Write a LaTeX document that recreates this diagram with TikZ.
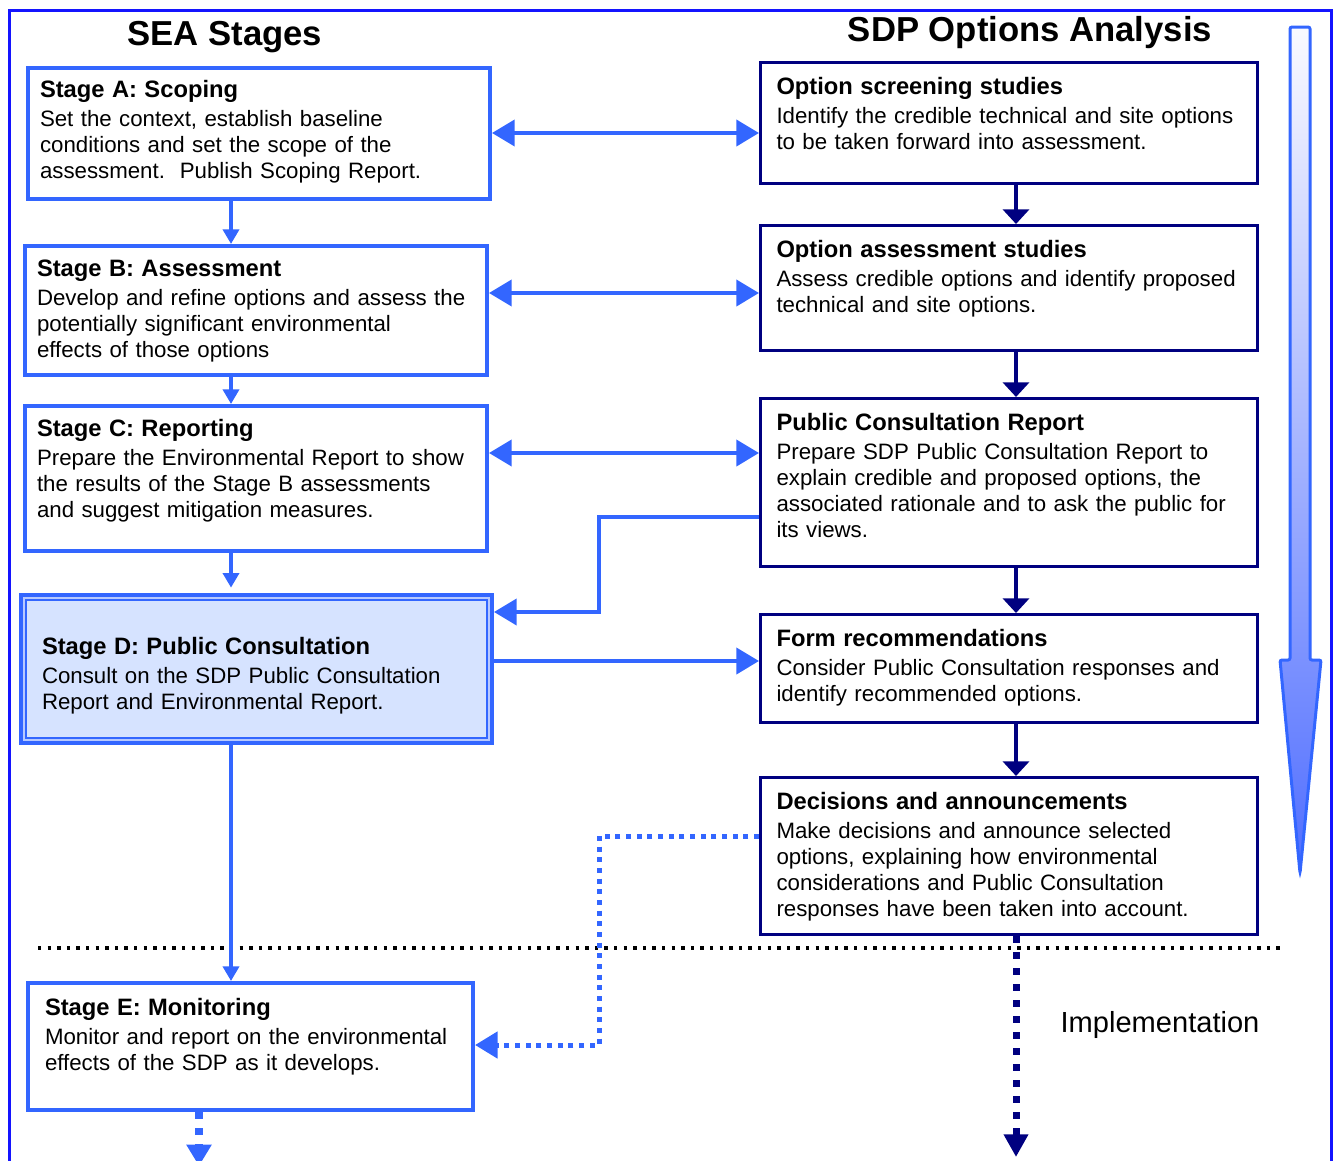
\documentclass[tikz,border=0pt]{standalone}
\usepackage{fontspec}
\setmainfont{Liberation Sans}
\usetikzlibrary{arrows.meta}

\definecolor{seablue}{RGB}{51,102,255}
\definecolor{sdpnavy}{RGB}{0,0,128}
\definecolor{frameblue}{RGB}{20,20,255}
\definecolor{dfill}{RGB}{214,227,255}

\newcommand{\boxtitle}[1]{{\bfseries\fontsize{17.8}{19.5}\selectfont #1}\\[2.25pt]}

\tikzset{
  every node/.style={font=\fontsize{16.7}{19.5}\selectfont},
  seabox/.style={draw=seablue, line width=3pt, fill=white, anchor=north west,
    align=left, inner ysep=0pt, inner xsep=9pt, text width=328.5pt},
  sdpbox/.style={draw=sdpnavy, line width=2.25pt, fill=white, anchor=north west,
    align=left, inner ysep=0pt, inner xsep=12pt, text width=348.75pt, text height=24pt},
  blink/.style={draw=seablue, line width=3pt},
  dlink/.style={blink, {Triangle[length=17pt,width=19.5pt]}-{Triangle[length=17pt,width=19.5pt]}},
  hlink/.style={blink, -{Triangle[length=17pt,width=19.5pt]}},
  vlink/.style={blink, -{Triangle[length=11pt,width=12pt]}},
  nlink/.style={draw=sdpnavy, line width=3.5pt, -{Triangle[length=11pt,width=19.5pt]}},
  bdots/.style={hlink, line width=3.75pt, dash pattern=on 3.75pt off 4.25pt},
}

\begin{document}
\begin{tikzpicture}[x=0.75pt, y=-0.75pt]
\useasboundingbox (0,0) rectangle (1333,1160);
%
% frame
\draw[frameblue, line width=2.25pt] (9,1175) -- (9,10) -- (1331,10) -- (1331,1175);
%
% headings
\node[font=\bfseries\fontsize{26}{30}\selectfont] (seahead) at (225,37) {SEA Stages};
\node[font=\bfseries\fontsize{26}{30}\selectfont] (sdphead) at (1030,33) {SDP Options Analysis};
%
% SEA stages
\node[seabox, text height=21.75pt, text depth=76.5pt] (sa) at (26,66) {\boxtitle{Stage A: Scoping}
Set the context, establish baseline\\
conditions and set the scope of the\\
assessment.\ \ Publish Scoping Report.};
\node[seabox, text height=22.5pt, text depth=74.25pt] (sb) at (23,244) {\boxtitle{Stage B: Assessment}
Develop and refine options and assess the\\
potentially significant environmental\\
effects of those options};
\node[seabox, text height=22.5pt, text depth=86.25pt] (sc) at (23,404) {\boxtitle{Stage C: Reporting}
Prepare the Environmental Report to show\\
the results of the Stage B assessments\\
and suggest mitigation measures.};
\node[seabox, line width=4.5pt, fill=dfill, inner xsep=15pt, text width=321.75pt,
  text height=43.5pt, text depth=66pt] (sd) at (19,593) {\boxtitle{Stage D: Public Consultation}
Consult on the SDP Public Consultation\\
Report and Environmental Report.};
\draw[white!65!seablue, line width=1.5pt] ([xshift=3.75pt,yshift=-3.75pt]sd.north west) rectangle ([xshift=-3.75pt,yshift=3.75pt]sd.south east);
\draw[seablue, line width=1.5pt] ([xshift=5.6pt,yshift=-5.6pt]sd.north west) rectangle ([xshift=-5.6pt,yshift=5.6pt]sd.south east);
\node[seabox, inner xsep=12.75pt, text width=308.25pt, text height=24pt, text depth=71.25pt] (se) at (26,981) {\boxtitle{Stage E: Monitoring}
Monitor and report on the environmental\\
effects of the SDP as it develops.};
%
% SDP options analysis
\node[sdpbox, text depth=66.75pt] (o1) at (759,61) {\boxtitle{Option screening studies}
Identify the credible technical and site options\\
to be taken forward into assessment.};
\node[sdpbox, text depth=69.75pt] (o2) at (759,224) {\boxtitle{Option assessment studies}
Assess credible options and identify proposed\\
technical and site options.};
\node[sdpbox, text depth=102pt] (o3) at (759,397) {\boxtitle{Public Consultation Report}
Prepare SDP Public Consultation Report to\\
explain credible and proposed options, the\\
associated rationale and to ask the public for\\
its views.};
\node[sdpbox, text depth=57pt] (o4) at (759,613) {\boxtitle{Form recommendations}
Consider Public Consultation responses and\\
identify recommended options.};
\node[sdpbox, text depth=93.75pt] (o5) at (759,776) {\boxtitle{Decisions and announcements}
Make decisions and announce selected\\
options, explaining how environmental\\
considerations and Public Consultation\\
responses have been taken into account.};
%
\node[font=\fontsize{21.8}{26}\selectfont] (impl) at (1160,1025) {Implementation};
%
% big arrow on the right
\draw[seablue, line width=2.25pt, rounded corners=1.5pt,
  top color={rgb,255:red,250;green,250;blue,255}, bottom color={rgb,255:red,80;green,110;blue,255}]
  (1290,27) -- (1310,27) -- (1310,660) -- (1321,660) -- (1300,873) -- (1280,660) -- (1290,660) -- cycle;
%
% implementation line
\draw[black, line width=2.6pt, dash pattern=on 2.6pt off 4.6pt] (38,948) -- (1284,948);
%
% links between the columns
\draw[dlink] (sa.east |- 0,133) -- (o1.west |- 0,133);
\draw[dlink] (sb.east |- 0,293) -- (o2.west |- 0,293);
\draw[dlink] (sc.east |- 0,453) -- (o3.west |- 0,453);
\draw[hlink] (sd.east |- 0,661) -- (o4.west |- 0,661);
\draw[hlink] (o3.west |- 0,517) -- (599,517) -- (599,612) -- (sd.east |- 0,612);
\draw[bdots] (o5.west |- 0,836) -- (599,836) -- (599,1045) -- (se.east |- 0,1045);
%
% down the SEA stages
\coordinate (lx) at (231,0);
\draw[vlink] (sa.south -| lx) -- (sb.north -| lx);
\draw[vlink] (sb.south -| lx) -- (sc.north -| lx);
\draw[vlink] (sc.south -| lx) -- ([yshift=4pt]sd.north -| lx);
\draw[vlink] (sd.south -| lx) -- (se.north -| lx);
\coordinate (seaend) at (199,1166);
\draw[blink, line width=6pt, dash pattern=on 5pt off 7pt,
  -{Triangle[length=16pt,width=18pt]}] (se.south -| seaend) -- (seaend);
%
% down the SDP options
\coordinate (rx) at (1016,0);
\draw[nlink] (o1.south -| rx) -- (o2.north -| rx);
\draw[nlink] (o2.south -| rx) -- (o3.north -| rx);
\draw[nlink] (o3.south -| rx) -- (o4.north -| rx);
\draw[nlink] (o4.south -| rx) -- (o5.north -| rx);
\coordinate (sdpend) at (1016,1157);
\draw[nlink, line width=5.25pt, dash pattern=on 5.25pt off 6.75pt,
  -{Triangle[length=17pt,width=17.5pt]}] (o5.south -| rx) -- (sdpend);
%
\end{tikzpicture}
\end{document}
